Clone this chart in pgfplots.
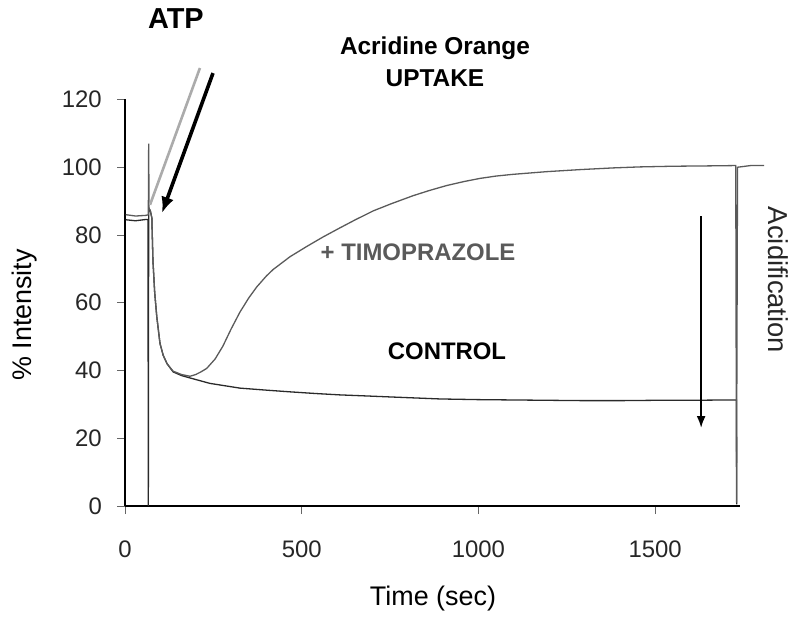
\documentclass[border=0pt]{standalone}
\usepackage{fontspec}
\setmainfont{Liberation Sans}
\usepackage{pgfplots}
\pgfplotsset{compat=1.18}
\usetikzlibrary{arrows.meta}
\definecolor{ctrl}{HTML}{2A2A2A}
\definecolor{timo}{HTML}{5A5A5A}
\definecolor{atpgray}{HTML}{ABABAB}
\begin{document}
\begin{tikzpicture}
\useasboundingbox (0,0) rectangle (800bp,620bp);
\begin{axis}[
  at={(125bp,114bp)}, anchor=south west,
  scale only axis, width=615bp, height=406.5bp,
  xmin=0, xmax=1740, ymin=0, ymax=120,
  clip=false,
  axis x line*=bottom, axis y line*=left,
  axis line style={black, line width=1.7bp, -},
  every outer x axis line/.append style={-},
  every outer y axis line/.append style={-},
  xtick={0,500,1000,1500}, ytick={0,20,40,60,80,100,120},
  tick align=outside, major tick length=8bp,
  tick style={black!60, line width=0.8bp},
  /pgf/number format/assume math mode=true,
  /pgf/number format/1000 sep={},
  scaled ticks=false,
  ticklabel style={font=\fontsize{24}{24}\selectfont, text=black!85},
  xticklabel style={anchor=center, inner sep=0pt, yshift=-35bp},
  yticklabel style={anchor=east, inner sep=0pt, xshift=-15bp},
  xlabel={Time (sec)},
  ylabel={\% Intensity},
  xlabel style={at={(axis description cs:0.5008,-0.2267)}, anchor=center, font=\fontsize{27}{27}\selectfont},
  ylabel style={at={(axis description cs:-0.1626,0.47)}, anchor=center, font=\fontsize{27}{27}\selectfont},
]
% CONTROL trace
\addplot[ctrl, line width=1.3bp] coordinates {
(2,84.5)(30,84.2)(60,84.6)(65,84.6)(66,0)(67,88)(72,87)(76,85)(79,72.6)(84,63)(90,55.8)(99,48)(108,44.5)(119,42)(136,39.6)(160,38.5)(184,37.8)(240,36.2)(325,34.8)(400,34.2)(467,33.7)(540,33.2)(608,32.8)(680,32.5)(749,32.2)(820,31.9)(891,31.6)(1000,31.4)(1100,31.3)(1200,31.2)(1300,31.1)(1400,31.1)(1500,31.2)(1600,31.2)(1700,31.3)(1730,31.3)(1731,0.5)
};
% TIMOPRAZOLE trace
\addplot[timo, line width=1.3bp] coordinates {
(2,86)(30,85.6)(60,85.8)(66,86)(67,107)(68,88)(72,87)(76,85)(79,72.6)(84,63)(90,55.8)(99,48)(108,44.5)(119,42)(136,39.8)(160,38.8)(184,38.3)(200,38.8)(215,39.6)(231,40.6)(255,43.4)(277,47.2)(300,52.2)(325,57.2)(350,61.4)(373,64.7)(400,67.9)(419,69.8)(467,73.6)(514,76.6)(560,79.4)(608,82.1)(650,84.4)(702,87.1)(750,89.1)(815,91.6)(860,93.1)(910,94.6)(960,95.8)(1004,96.7)(1050,97.4)(1097,97.9)(1193,98.7)(1287,99.3)(1380,99.8)(1456,100.1)(1550,100.3)(1650,100.4)(1728,100.5)(1730,1)(1733,100)(1770,100.5)(1808,100.5)
};
% annotations
\draw[atpgray, line width=2.6bp] (axis cs:212,129.3) -- (axis cs:70.7,88.9);
\draw[black, line width=3.6bp, -{Latex[length=16bp,width=13bp]}] (axis cs:249,127.8) -- (axis cs:104.7,86.5);
\draw[black, line width=2.2bp, -{Latex[length=12bp,width=9bp]}] (axis cs:1630,85.6) -- (axis cs:1630,23.0);
\node[font=\bfseries\fontsize{29}{29}\selectfont] at (axis cs:144,144) {ATP};
\node[font=\bfseries\fontsize{24.5}{24.5}\selectfont] at (axis cs:877,135.2) {Acridine Orange};
\node[font=\bfseries\fontsize{24.5}{24.5}\selectfont] at (axis cs:877,126.3) {UPTAKE};
\node[font=\bfseries\fontsize{24}{24}\selectfont, text=timo] at (axis cs:829,75.0) {+ TIMOPRAZOLE};
\node[font=\bfseries\fontsize{24}{24}\selectfont] at (axis cs:911,45.8) {CONTROL};
\node[font=\fontsize{27.5}{27.5}\selectfont, rotate=-90, text=black!85] at (axis cs:1848,66.7) {Acidification};
\end{axis}
\end{tikzpicture}
\end{document}
